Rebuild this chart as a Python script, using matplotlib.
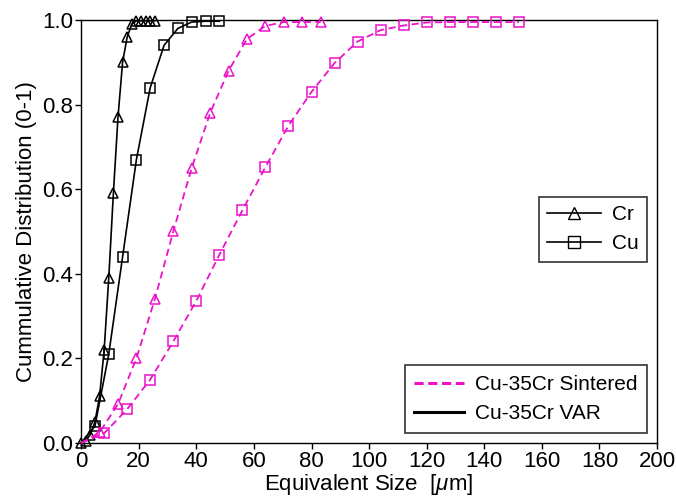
import matplotlib
matplotlib.use("Agg")
import matplotlib.pyplot as plt
from matplotlib.lines import Line2D

plt.rcParams['font.family'] = ['Liberation Sans', 'DejaVu Sans']
plt.rcParams['mathtext.fontset'] = 'custom'
plt.rcParams['mathtext.it'] = 'Liberation Sans:italic'
plt.rcParams['mathtext.rm'] = 'Liberation Sans'

# VAR (black, solid)
cr_var_x = [0, 1.6, 3.2, 4.8, 6.4, 8.0, 9.6, 11.2, 12.8, 14.4, 16.0, 17.6, 19.2, 20.8, 22.4, 24.0, 25.6]
cr_var_y = [0, 0.005, 0.02, 0.05, 0.11, 0.22, 0.39, 0.59, 0.77, 0.90, 0.96, 0.99, 0.998, 0.998, 0.998, 0.998, 0.998]
cu_var_x = [0, 4.8, 9.6, 14.4, 19.2, 24.0, 28.8, 33.6, 38.4, 43.2, 48.0]
cu_var_y = [0, 0.04, 0.21, 0.44, 0.67, 0.84, 0.94, 0.98, 0.995, 0.997, 0.997]

# Sintered (magenta, dashed)
cr_sin_x = [0, 6.4, 12.8, 19.2, 25.6, 32.0, 38.4, 44.8, 51.2, 57.6, 64.0, 70.4, 76.8, 83.2]
cr_sin_y = [0, 0.025, 0.092, 0.20, 0.34, 0.50, 0.65, 0.78, 0.88, 0.955, 0.986, 0.995, 0.995, 0.995]
cu_sin_x = [0, 8, 16, 24, 32, 40, 48, 56, 64, 72, 80, 88, 96, 104, 112, 120, 128, 136, 144, 152]
cu_sin_y = [0, 0.023, 0.08, 0.15, 0.24, 0.336, 0.445, 0.55, 0.652, 0.75, 0.83, 0.898, 0.949, 0.976,
            0.987, 0.994, 0.995, 0.995, 0.995, 0.995]

magenta = '#ec12c9'
dash = (0, (4, 2.5))
fs = 16

fig = plt.figure(figsize=(6.76, 4.99), dpi=100)
ax = fig.add_axes([0.12, 0.1122, 0.852, 0.8478])

mk = dict(markersize=7.5, markerfacecolor='none', markeredgewidth=1.1, clip_on=False, zorder=3)
ax.plot(cr_var_x, cr_var_y, color='black', lw=1.2, marker='^', markeredgecolor='black', **mk)
ax.plot(cu_var_x, cu_var_y, color='black', lw=1.2, marker='s', markeredgecolor='black',
        markevery=slice(1, None), **mk)
ax.plot(cr_sin_x, cr_sin_y, color=magenta, lw=1.3, ls=dash, marker='^', markeredgecolor=magenta,
        markevery=slice(1, None), **mk)
ax.plot(cu_sin_x, cu_sin_y, color=magenta, lw=1.3, ls=dash, marker='s', markeredgecolor=magenta,
        markevery=slice(1, None), **mk)

ax.set_xlim(0, 200)
ax.set_ylim(0, 1.0)
ax.set_xticks(range(0, 201, 20))
ax.set_yticks([0, 0.2, 0.4, 0.6, 0.8, 1.0])
ax.set_yticklabels(['0.0', '0.2', '0.4', '0.6', '0.8', '1.0'])
ax.tick_params(direction='out', length=4, width=1, labelsize=fs, pad=1.5)
for s in ax.spines.values():
    s.set_linewidth(1)
ax.set_xlabel('Equivalent Size  [$\\mu$m]', fontsize=fs, labelpad=0)
ax.set_ylabel('Cummulative Distribution (0-1)', fontsize=fs, labelpad=4)

h1 = [Line2D([], [], color='black', lw=1.2, marker='^', markersize=8, markerfacecolor='none'),
      Line2D([], [], color='black', lw=1.2, marker='s', markersize=8, markerfacecolor='none')]
leg1 = ax.legend(h1, ['Cr', 'Cu'], loc='upper right', bbox_to_anchor=(1.0, 0.607),
                 fontsize=15, frameon=True, fancybox=False, edgecolor='black',
                 handlelength=2.6, borderpad=0.4, labelspacing=0.5, handletextpad=0.5)
leg1.get_frame().set_linewidth(1.2)
ax.add_artist(leg1)

h2 = [Line2D([], [], color=magenta, lw=2.2, ls=(0, (3, 1.5))),
      Line2D([], [], color='black', lw=2.2)]
leg2 = ax.legend(h2, ['Cu-35Cr Sintered', 'Cu-35Cr VAR'], loc='lower right',
                 bbox_to_anchor=(1.0, 0.0), fontsize=15, frameon=True, fancybox=False,
                 edgecolor='black', handlelength=2.4, borderpad=0.45, labelspacing=0.5,
                 handletextpad=0.5)
leg2.get_frame().set_linewidth(1.2)

fig.savefig('out.png', dpi=100)
